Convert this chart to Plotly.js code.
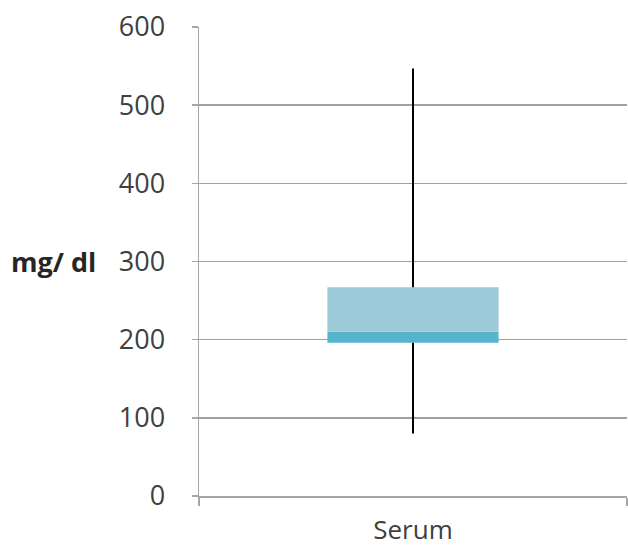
<!DOCTYPE html>
<html>
<head>
<meta charset="utf-8">
<script src="https://cdn.plot.ly/plotly-3.0.1.min.js"></script>
<style>html,body{margin:0;padding:0;background:#fff;}#chart{width:628px;height:551px;}</style>
</head>
<body>
<div id="chart"></div>
<script>
// Data
var categories = ['Serum'];
var minVals = [80];
var q1Vals = [196];
var medianVals = [210];
var q3Vals = [267];
var maxVals = [547];
var yTickVals = [0, 100, 200, 300, 400, 500, 600];
var yTickText = ['0', '100', '200', '300', '400', '500', '600'];

var lowerBox = {
  type: 'bar', x: categories,
  base: q1Vals,
  y: medianVals.map(function (m, i) { return m - q1Vals[i]; }),
  marker: {color: '#56B4CC', line: {width: 0}},
  hoverinfo: 'skip', showlegend: false
};
var upperBox = {
  type: 'bar', x: categories,
  base: medianVals,
  y: q3Vals.map(function (q, i) { return q - medianVals[i]; }),
  marker: {color: '#9DCAD9', line: {width: 0}},
  hoverinfo: 'skip', showlegend: false
};
// whiskers: min->q1 and q3->max
var wx = [], wy = [];
categories.forEach(function (c, i) {
  wx.push(c, c, null, c, c, null);
  wy.push(minVals[i], q1Vals[i], null, q3Vals[i], maxVals[i], null);
});
var whisker = {
  type: 'scatter', mode: 'lines', x: wx, y: wy,
  line: {color: '#000000', width: 2},
  hoverinfo: 'skip', showlegend: false, connectgaps: false
};

var fontFam = 'Open Sans, Lato, sans-serif';
var layout = {
  width: 628, height: 551,
  margin: {l: 199, r: 1, t: 27, b: 55},
  paper_bgcolor: '#ffffff', plot_bgcolor: '#ffffff',
  barmode: 'overlay', bargap: 0.6,
  showlegend: false,
  font: {family: fontFam, color: '#404040'},
  xaxis: {
    type: 'category', range: [-0.5, 0.5],
    showgrid: false, zeroline: false,
    showline: true, linecolor: '#a6a6a6', linewidth: 1.5,
    ticks: 'outside', tickson: 'boundaries', ticklen: 8, tickcolor: '#a6a6a6', tickwidth: 1.5,
    ticklabelstandoff: 10,
    tickfont: {family: fontFam, size: 26, color: '#404040'},
    fixedrange: true
  },
  yaxis: {
    range: [0, 600], tickvals: yTickVals, ticktext: yTickText,
    showgrid: true, gridcolor: '#a0a0a0', gridwidth: 1.5,
    zeroline: false,
    showline: true, linecolor: '#a6a6a6', linewidth: 1.5,
    ticks: 'outside', ticklen: 6, tickcolor: '#a6a6a6', tickwidth: 1.5,
    ticklabelstandoff: 21,
    tickfont: {family: fontFam, size: 27, color: '#404040'},
    fixedrange: true
  },
  annotations: [{
    text: '<b>mg/ dl</b>', xref: 'paper', yref: 'paper',
    x: -0.236, y: 0.5, xanchor: 'right', yanchor: 'middle', showarrow: false,
    font: {family: fontFam, size: 27, color: '#262626'}
  }]
};

Plotly.newPlot('chart', [lowerBox, upperBox, whisker], layout, {staticPlot: true, displayModeBar: false});
</script>
</body>
</html>
